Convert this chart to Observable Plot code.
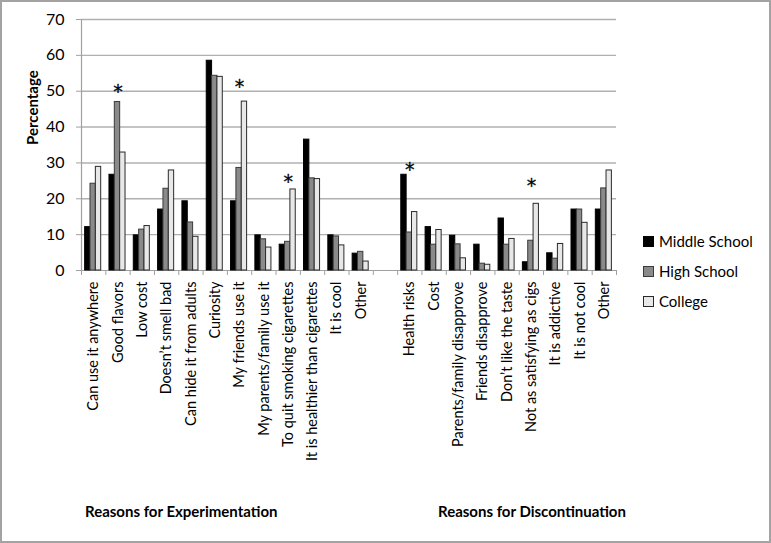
<!DOCTYPE html>
<html><head><meta charset="utf-8">
<script src="https://cdn.jsdelivr.net/npm/d3@7"></script>
<script src="https://cdn.jsdelivr.net/npm/@observablehq/plot@0.6"></script>
<style>
html,body{margin:0;padding:0;background:#fff;}
#wrap{position:relative;width:771px;height:543px;font-family:Lato,sans-serif;overflow:hidden;background:#fff}
#chart{position:absolute;left:0;top:0}
#border{position:absolute;left:0;top:0;width:771px;height:543px;box-sizing:border-box;border:2px solid #a3a3a3;pointer-events:none}
.legend{position:absolute;left:643px;font-size:15px;color:#000;display:flex;align-items:center;height:20px}
.sw{width:9px;height:9px;margin-right:5px;border:1px solid #222}
.section{position:absolute;top:502px;font-weight:bold;font-size:15px;color:#000}
</style></head>
<body>
<div id="wrap">
  <div id="chart"></div>
  <div id="legend"></div>
  <div class="section" style="left:85px">Reasons for Experimentation</div>
  <div class="section" style="left:438px">Reasons for Discontinuation</div>
  <div id="border"></div>
</div>
<script>
const expCategories = ["Can use it anywhere","Good flavors","Low cost","Doesn’t smell bad","Can hide it from adults","Curiosity","My friends use it","My parents/family use it","To quit smoking cigarettes","It is healthier than cigarettes","It is cool","Other"];
const discCategories = ["Health risks","Cost","Parents/family disapprove","Friends disapprove","Don’t like the taste","Not as satisfying as cigs","It is addictive","It is not cool","Other"];
const seriesNames = ["Middle School","High School","College"];

const expMiddle  = [12.1, 26.7, 9.8, 17.0, 19.3, 58.5, 19.3, 9.8, 7.2, 36.5, 9.8, 4.7];
const expHigh    = [24.2, 47.0, 11.4, 22.8, 13.4, 54.3, 28.6, 8.7, 8.0, 25.7, 9.5, 5.2];
const expCollege = [28.9, 32.9, 12.4, 27.9, 9.4, 54.0, 47.1, 6.4, 22.6, 25.5, 7.0, 2.5];

const discMiddle  = [26.7, 12.1, 9.7, 7.2, 14.5, 2.3, 4.8, 17.0, 17.0];
const discHigh    = [10.6, 7.2, 7.3, 1.9, 7.2, 8.3, 3.3, 17.0, 22.9];
const discCollege = [16.3, 11.3, 3.4, 1.6, 8.8, 18.6, 7.4, 13.3, 27.9];

// significance markers: [section, category, y]
const starCats = [["exp","Good flavors",50.9],["exp","My friends use it",52.3],["exp","To quit smoking cigarettes",25.9],["disc","Health risks",29.1],["disc","Not as satisfying as cigs",24.8]];

const yTicks = [0,10,20,30,40,50,60,70];

// slots: experimentation, one empty slot, discontinuation
const slots = [...expCategories.map(c=>({sec:"exp",cat:c})), {sec:"gap",cat:""}, ...discCategories.map(c=>({sec:"disc",cat:c}))];
const slotIndex = (sec,cat) => slots.findIndex(s=>s.sec===sec && s.cat===cat);

const rows = [];
const addRows = (sec, cats, arrays) => {
  cats.forEach((c,i)=>{
    arrays.forEach((arr,j)=>{
      const idx = slotIndex(sec,c);
      rows.push({sec, cat:c, series:seriesNames[j], s:j, value:arr[i], x1: idx + 0.15 + j*0.22, x2: idx + 0.15 + (j+1)*0.22});
    });
  });
};
addRows("exp", expCategories, [expMiddle, expHigh, expCollege]);
addRows("disc", discCategories, [discMiddle, discHigh, discCollege]);

const stars = starCats.map(([sec,c,y])=>({x: slotIndex(sec,c)+0.5, y}));
const labelRows = slots.map((s,i)=>({x:i+0.5, label:s.cat})).filter(d=>d.label);
const boundaries = d3.range(0, slots.length+1);

const fills = {"Middle School":"#000000","High School":"#8a8a8a","College":"#e8e8e8"};
const strokes = {"Middle School":"#000000","High School":"#3a3a3a","College":"#2a2a2a"};

const chart = Plot.plot({
  width: 771, height: 543,
  marginLeft: 81, marginRight: 155, marginTop: 19, marginBottom: 273,
  style: {fontFamily: "Lato, sans-serif", background: "transparent"},
  x: {type: "linear", domain: [0, slots.length], axis: null},
  y: {type: "linear", domain: [0, 70], axis: null},
  marks: [
    Plot.ruleY(yTicks.filter(d=>d>0), {x1: 0, x2: slots.length, stroke: "#b0b0b0", strokeWidth: 1.4}),
    Plot.ruleX([0], {y1: 0, y2: 70, stroke: "#a0a0a0", strokeWidth: 1.2}),
    Plot.ruleY([0], {x1: 0, x2: slots.length, stroke: "#a0a0a0", strokeWidth: 1.2}),
    Plot.axisY({ticks: yTicks, tickSize: 5, tickPadding: 12, fontSize: 16, stroke: "#a0a0a0", color: "#000", label: null}),
    Plot.axisX({ticks: boundaries, tickSize: 5, tickFormat: () => "", stroke: "#a0a0a0", label: null}),
    Plot.rectY(rows, {x1: "x1", x2: "x2", y: "value", fill: d=>fills[d.series], stroke: d=>strokes[d.series], strokeWidth: 1}),
    Plot.text(stars, {x: "x", y: "y", text: ()=>"*", fontSize: 19, fontFamily: "DejaVu Sans", lineAnchor: "middle", dy: 4, fill: "black", stroke: "black", strokeWidth: 0.3}),
    Plot.text(labelRows, {x: "x", y: 0, text: "label", rotate: -90, textAnchor: "end", lineAnchor: "middle", dy: 11, fontSize: 14.5, fill: "#000"}),
    Plot.text(["Percentage"], {frameAnchor: "left", rotate: -90, dx: -48, fontSize: 15, fontWeight: "bold", fill: "#000"})
  ]
});
document.getElementById("chart").appendChild(chart);

const legend = document.getElementById("legend");
seriesNames.forEach((s,i)=>{
  const d = document.createElement("div");
  d.className = "legend";
  d.style.top = (231 + i*30) + "px";
  d.innerHTML = `<span class="sw" style="background:${fills[s]};border-color:${strokes[s]}"></span>${s}`;
  legend.appendChild(d);
});
</script>
</body></html>
